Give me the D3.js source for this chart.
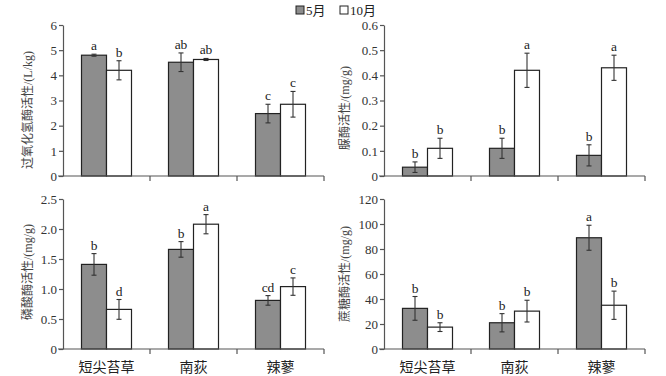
<!DOCTYPE html>
<html>
<head>
<meta charset="utf-8">
<script src="https://cdn.jsdelivr.net/npm/d3@7"></script>
<style>
  body { margin: 0; background: #fff; }
  svg { display: block; font-family: "Liberation Serif", "Noto Sans CJK SC", serif; }
</style>
</head>
<body>
<div id="chart"></div>
<script>
// categories and series
const species = ['短尖苔草', '南荻', '辣蓼'];
const seasons = ['5月', '10月'];
const seasonColors = ['#8d8d8d', '#ffffff'];

// catalase (top left)
const catMay = [4.8, 4.52, 2.48];
const catOct = [4.2, 4.63, 2.85];
const catMayErr = [0.04, 0.37, 0.37];
const catOctErr = [0.38, 0.04, 0.51];
const catMayLetters = ['a', 'ab', 'c'];
const catOctLetters = ['b', 'ab', 'c'];

// urease (top right)
const ureMay = [0.035, 0.11, 0.082];
const ureOct = [0.11, 0.42, 0.43];
const ureMayErr = [0.021, 0.04, 0.042];
const ureOctErr = [0.04, 0.068, 0.05];
const ureMayLetters = ['b', 'b', 'b'];
const ureOctLetters = ['b', 'a', 'a'];

// phosphatase (bottom left)
const phoMay = [1.41, 1.66, 0.81];
const phoOct = [0.66, 2.08, 1.04];
const phoMayErr = [0.18, 0.13, 0.08];
const phoOctErr = [0.165, 0.16, 0.145];
const phoMayLetters = ['b', 'b', 'cd'];
const phoOctLetters = ['d', 'a', 'c'];

// sucrase (bottom right)
const sucMay = [32.5, 21, 89];
const sucOct = [17.5, 30.3, 35];
const sucMayErr = [9.5, 7.3, 10];
const sucOctErr = [3.5, 8.7, 11.3];
const sucMayLetters = ['b', 'b', 'a'];
const sucOctLetters = ['b', 'b', 'b'];

const yTicks1 = [0, 1, 2, 3, 4, 5, 6];
const yTicks2 = [0, 0.1, 0.2, 0.3, 0.4, 0.5, 0.6];
const yTicks3 = [0, 0.5, 1.0, 1.5, 2.0, 2.5];
const yTicks4 = [0, 20, 40, 60, 80, 100, 120];

const width = 666, height = 376;
const svg = d3.select('#chart').append('svg').attr('width', width).attr('height', height);

const oneDec = (d) => (d === 0 ? '0' : d3.format('.1f')(d));

const panels = [
  { left: 63, top: 25, h: 151, w: 261, title: '过氧化氢酶活性/(L/kg)', max: 6, ticks: yTicks1, fmt: d3.format('d'),
    may: catMay, oct: catOct, mayErr: catMayErr, octErr: catOctErr, mayL: catMayLetters, octL: catOctLetters,
    titleX: 28, titleY: 110, xLabels: false },
  { left: 384, top: 25, h: 151, w: 261, title: '脲酶活性/(mg/g)', max: 0.6, ticks: yTicks2, fmt: oneDec,
    may: ureMay, oct: ureOct, mayErr: ureMayErr, octErr: ureOctErr, mayL: ureMayLetters, octL: ureOctLetters,
    titleX: 345, titleY: 108, xLabels: false },
  { left: 63, top: 199, h: 150, w: 261, title: '磷酸酶活性/(mg/g)', max: 2.5, ticks: yTicks3, fmt: oneDec,
    may: phoMay, oct: phoOct, mayErr: phoMayErr, octErr: phoOctErr, mayL: phoMayLetters, octL: phoOctLetters,
    titleX: 28, titleY: 272, xLabels: true },
  { left: 384, top: 199, h: 150, w: 261, title: '蔗糖酶活性/(mg/g)', max: 120, ticks: yTicks4, fmt: d3.format('d'),
    may: sucMay, oct: sucOct, mayErr: sucMayErr, octErr: sucOctErr, mayL: sucMayLetters, octL: sucOctLetters,
    titleX: 345, titleY: 274, xLabels: true },
];

const axisColor = '#555';

panels.forEach((p) => {
  const g = svg.append('g').attr('transform', `translate(${p.left},${p.top})`);
  const y = d3.scaleLinear().domain([0, p.max]).range([p.h, 0]);
  const x0 = d3.scaleBand().domain(species).range([0, p.w]).padding(0);
  const x1 = d3.scaleBand().domain(seasons).range([0, x0.bandwidth()]).paddingOuter(0.74).paddingInner(0);

  const rows = species.map((s, i) => ({
    s,
    vals: [
      { k: seasons[0], v: p.may[i], e: p.mayErr[i], l: p.mayL[i] },
      { k: seasons[1], v: p.oct[i], e: p.octErr[i], l: p.octL[i] },
    ],
  }));

  const grp = g.selectAll('.grp').data(rows).enter().append('g')
    .attr('transform', (d) => `translate(${x0(d.s)},0)`);

  grp.selectAll('rect').data((d) => d.vals).enter().append('rect')
    .attr('x', (d) => x1(d.k))
    .attr('y', (d) => y(d.v))
    .attr('width', x1.bandwidth())
    .attr('height', (d) => y(0) - y(d.v))
    .attr('fill', (d, i) => seasonColors[i])
    .attr('stroke', '#222')
    .attr('stroke-width', 1.2);

  // error bars
  const eb = grp.selectAll('.eb').data((d) => d.vals).enter().append('g')
    .attr('stroke', '#333').attr('stroke-width', 1.1);
  const cx = (d) => x1(d.k) + x1.bandwidth() / 2;
  eb.append('line').attr('x1', cx).attr('x2', cx)
    .attr('y1', (d) => y(d.v - d.e)).attr('y2', (d) => y(d.v + d.e));
  eb.append('line').attr('x1', (d) => cx(d) - 2.5).attr('x2', (d) => cx(d) + 2.5)
    .attr('y1', (d) => y(d.v + d.e)).attr('y2', (d) => y(d.v + d.e));
  eb.append('line').attr('x1', (d) => cx(d) - 2.5).attr('x2', (d) => cx(d) + 2.5)
    .attr('y1', (d) => y(d.v - d.e)).attr('y2', (d) => y(d.v - d.e));

  // significance letters
  grp.selectAll('.lt').data((d) => d.vals).enter().append('text')
    .attr('x', cx)
    .attr('y', (d) => y(d.v + d.e) - 4)
    .attr('text-anchor', 'middle')
    .attr('font-size', 13.5)
    .attr('font-family', '"Liberation Serif", serif')
    .attr('fill', '#222')
    .text((d) => d.l);

  // y axis
  const yAxis = g.append('g').call(d3.axisLeft(y).tickValues(p.ticks).tickFormat(p.fmt).tickSize(4).tickSizeOuter(0));
  yAxis.select('.domain').attr('stroke', axisColor).attr('stroke-width', 1.2);
  yAxis.selectAll('.tick line').attr('stroke', axisColor).attr('stroke-width', 1.2);
  yAxis.selectAll('.tick text').attr('font-size', 13).attr('fill', '#333').attr('x', -6)
    .attr('font-family', '"Liberation Serif", serif');

  // x axis: line with ticks at category boundaries
  const xa = g.append('g').attr('transform', `translate(0,${p.h})`);
  xa.append('line').attr('x1', -5).attr('x2', p.w).attr('y1', 0).attr('y2', 0)
    .attr('stroke', axisColor).attr('stroke-width', 1.2);
  xa.selectAll('.xt').data(species).enter().append('line')
    .attr('x1', (d) => x0(d) + x0.bandwidth()).attr('x2', (d) => x0(d) + x0.bandwidth())
    .attr('y1', 0).attr('y2', 5)
    .attr('stroke', axisColor).attr('stroke-width', 1.2);
  if (p.xLabels) {
    xa.selectAll('.xl').data(species).enter().append('text')
      .attr('x', (d) => x0(d) + x0.bandwidth() / 2)
      .attr('y', 23)
      .attr('text-anchor', 'middle')
      .attr('font-size', 14)
      .attr('fill', '#222')
      .attr('font-family', '"Noto Sans CJK SC", sans-serif')
      .text((d) => d);
  }

  // y title
  svg.append('text')
    .attr('transform', `translate(${p.titleX},${p.titleY}) rotate(-90)`)
    .attr('text-anchor', 'middle')
    .attr('dy', '0.35em')
    .attr('font-size', 12)
    .attr('fill', '#444')
    .text(p.title);
});

// legend
const legend = svg.append('g').attr('transform', 'translate(296,5)');
seasons.forEach((s, i) => {
  const lg = legend.append('g').attr('transform', `translate(${i * 44},0)`);
  lg.append('rect').attr('x', 0).attr('y', 1).attr('width', 8).attr('height', 8)
    .attr('fill', seasonColors[i]).attr('stroke', '#222').attr('stroke-width', 1);
  lg.append('text').attr('x', 10).attr('y', 10).attr('font-size', 13).attr('fill', '#222').text(s);
});
</script>
</body>
</html>
